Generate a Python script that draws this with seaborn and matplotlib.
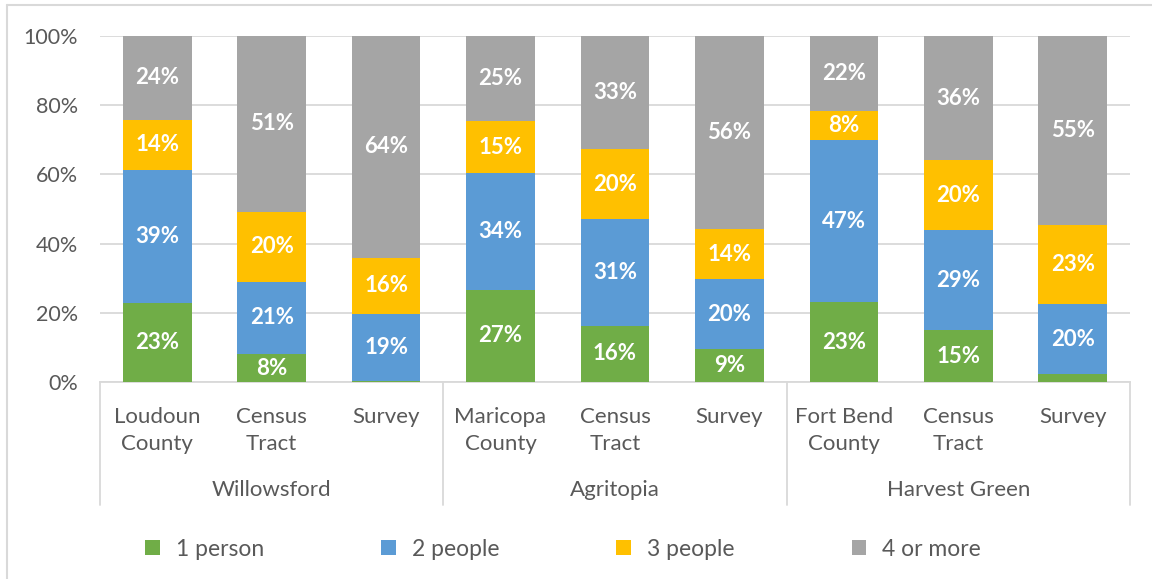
import matplotlib
matplotlib.use("Agg")
import matplotlib.pyplot as plt
from matplotlib.lines import Line2D
from matplotlib.patches import Patch
import numpy as np
import pandas as pd
import seaborn as sns

# Household size shares (%) for each community and its comparison areas
groups = ["Willowsford", "Agritopia", "Harvest Green"]
bar_labels = ["Loudoun\nCounty", "Census\nTract", "Survey",
              "Maricopa\nCounty", "Census\nTract", "Survey",
              "Fort Bend\nCounty", "Census\nTract", "Survey"]
series = ["1 person", "2 people", "3 people", "4 or more"]

one_person = [22.8, 8.0, 0.4, 26.6, 16.2, 9.4, 23.0, 15.0, 2.2]
two_people = [38.6, 21.0, 19.2, 33.9, 31.0, 20.3, 47.0, 28.9, 20.4]
three_people = [14.4, 20.2, 16.3, 14.8, 20.0, 14.4, 8.2, 20.2, 22.7]
four_more = [24.2, 50.8, 64.1, 24.7, 32.8, 55.9, 21.8, 35.9, 54.7]

# Segments thinner than this carry no label
label_min = 3.0

colors = ["#70AD47", "#5B9BD5", "#FFC000", "#A5A5A5"]
text_gray = "#595959"
line_gray = "#D9D9D9"

sns.set_theme(style="white")
plt.rcParams["font.family"] = ["Lato", "DejaVu Sans"]

bar_ids = [f"b{i}" for i in range(len(bar_labels))]
values = [one_person, two_people, three_people, four_more]
df = pd.DataFrame({"bar": bar_ids})
for name, vals in zip(series, values):
    df[name] = vals
cum = df[series].cumsum(axis=1)

fig = plt.figure(figsize=(11.52, 5.79), dpi=100)
ax = fig.add_axes([100 / 1152, 1 - 382 / 579, 1030 / 1152, 346 / 579])

# Stacked bars: draw cumulative totals from the top segment down
for name, color in reversed(list(zip(series, colors))):
    sns.barplot(data=cum.assign(bar=bar_ids), x="bar", y=name, order=bar_ids,
                color=color, saturation=1, width=0.6, ax=ax, zorder=3,
                edgecolor="none", linewidth=0)

# Segment value labels
for i in range(len(bar_ids)):
    base = 0.0
    for name in series:
        v = df.loc[i, name]
        if v >= label_min:
            ax.text(i, base + v / 2, f"{v:.0f}%", ha="center", va="center",
                    color="white", fontsize=16, fontweight="bold", zorder=5)
        base += v

ax.set_xlim(-0.5, len(bar_ids) - 0.5)
ax.set_ylim(0, 100)
ax.set_yticks(np.arange(0, 101, 20))
ax.set_yticklabels([f"{t}%" for t in range(0, 101, 20)])
ax.yaxis.grid(True, color=line_gray, linewidth=1.3, zorder=0)
ax.set_axisbelow(True)
for s in ["left", "right", "top"]:
    ax.spines[s].set_visible(False)
ax.spines["bottom"].set_color(line_gray)
ax.spines["bottom"].set_linewidth(1.3)
ax.tick_params(axis="y", length=0, pad=16, labelsize=15.5, labelcolor=text_gray)
ax.set_xticks(range(len(bar_ids)))
ax.set_xticklabels(bar_labels, linespacing=1.45)
ax.tick_params(axis="x", length=0, pad=18, labelsize=16, labelcolor=text_gray)
for lab in ax.get_xticklabels():
    lab.set_verticalalignment("top")
ax.set_xlabel("")
ax.set_ylabel("")

# Group separators and group names below the category labels
trans = ax.get_xaxis_transform()
n_per = len(bar_ids) // len(groups)
for k in range(len(groups) + 1):
    xpos = k * n_per - 0.5
    ax.add_line(Line2D([xpos, xpos], [0, -0.355], transform=trans,
                       color=line_gray, linewidth=1.3, clip_on=False))
for k, g in enumerate(groups):
    ax.text(k * n_per + (n_per - 1) / 2, -0.311, g, transform=trans,
            ha="center", va="center", fontsize=16, color=text_gray)

# Legend
handles = [Patch(facecolor=c, edgecolor="none") for c in colors]
fig.legend(handles, series, loc="center", ncol=4,
           bbox_to_anchor=(563 / 1152, 1 - 549 / 579), frameon=False,
           fontsize=16.5, labelcolor=text_gray, handlelength=0.65,
           handleheight=0.65, handletextpad=0.7, columnspacing=5.1)

# Chart frame
fig.add_artist(Line2D([7 / 1152, 7 / 1152], [0, 1 - 5 / 579],
                      transform=fig.transFigure, color=line_gray, linewidth=1.5))
fig.add_artist(Line2D([7 / 1152, 1], [1 - 5 / 579, 1 - 5 / 579],
                      transform=fig.transFigure, color=line_gray, linewidth=1.5))

fig.savefig("out.png", dpi=100, facecolor="white")
